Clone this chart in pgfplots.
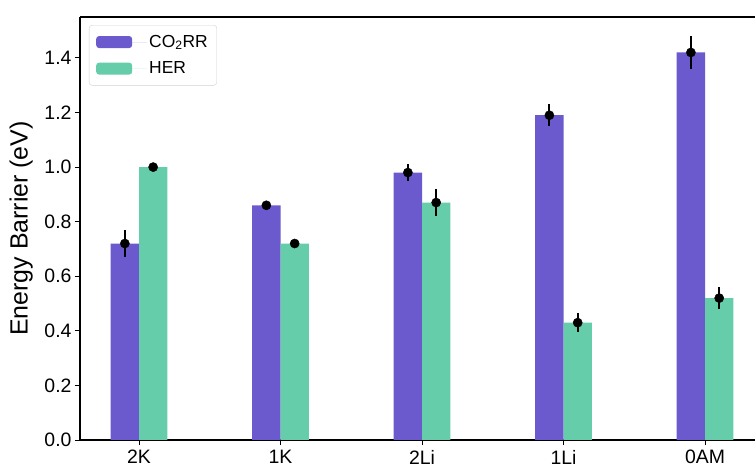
\documentclass[border=0pt]{standalone}
\usepackage{pgfplots}
\pgfplotsset{compat=1.18}
\usepackage{fontspec}
\setmainfont{Liberation Sans}
\definecolor{co2}{HTML}{6A5ACD}
\definecolor{her}{HTML}{66CDAA}
\begin{document}
\begin{tikzpicture}
\begin{axis}[
  scale only axis, width=675bp, height=423bp,
  xmin=-0.417, xmax=4.353, ymin=0, ymax=1.55,
  axis x line*=box, axis y line*=left,
  xtick pos=bottom, ytick pos=left,
  xtick={0,1,2,3,4}, xticklabels={2K,1K,2Li,1Li,0AM},
  ytick={0,0.2,0.4,0.6,0.8,1.0,1.2,1.4},
  /pgf/number format/assume math mode=true,
  /pgf/number format/fixed, /pgf/number format/fixed zerofill, /pgf/number format/precision=1,
  tick align=outside, major tick length=5bp,
  tick style={black, line width=1bp},
  axis line style={black, line width=1.1bp},
  tick label style={font=\fontsize{19.5}{22}\selectfont},
  xticklabel style={font=\fontsize{19.5}{22}\selectfont, yshift=-1.5bp},
  yticklabel style={font=\fontsize{19.5}{22}\selectfont},
  ylabel={Energy Barrier (eV)},
  ylabel style={font=\fontsize{25}{28}\selectfont, at={(axis description cs:-0.087,0.5)}, anchor=center},
  legend style={at={(axis description cs:0.0133,0.981)}, anchor=north west,
    draw=black!18, rounded corners=3bp, fill=white,
    font=\fontsize{17.5}{20}\selectfont, inner xsep=7bp, inner ysep=8bp,
    row sep=9bp, cells={anchor=west}},
  legend image code/.code={\fill[#1] (0bp,-6bp) rectangle (36bp,6bp); \path (0bp,0bp) -- (51bp,0bp);},
]
\addplot[ybar, bar width=0.2, bar shift=-0.1, fill=co2, draw=none] coordinates {(0,0.72) (1,0.86) (2,0.98) (3,1.19) (4,1.42)};
\addlegendentry{CO\textsubscript{2}RR}
\addplot[ybar, bar width=0.2, bar shift=0.1, fill=her, draw=none] coordinates {(0,1.00) (1,0.72) (2,0.87) (3,0.43) (4,0.52)};
\addlegendentry{HER}
\addplot[forget plot, only marks, mark=*, mark size=4.6bp, black,
  error bars/.cd, y dir=both, y explicit, error mark=none, error bar style={line width=2.2bp, black}]
  coordinates {(-0.1,0.72) +- (0,0.05) (0.9,0.86) +- (0,0.01) (1.9,0.98) +- (0,0.03) (2.9,1.19) +- (0,0.04) (3.9,1.42) +- (0,0.06)};
\addplot[forget plot, only marks, mark=*, mark size=4.6bp, black,
  error bars/.cd, y dir=both, y explicit, error mark=none, error bar style={line width=2.2bp, black}]
  coordinates {(0.1,1.00) +- (0,0.01) (1.1,0.72) +- (0,0.01) (2.1,0.87) +- (0,0.05) (3.1,0.43) +- (0,0.035) (4.1,0.52) +- (0,0.04)};
\coordinate (bl) at (rel axis cs:0,0);
\coordinate (tr) at (rel axis cs:1,1);
\end{axis}
\pgfresetboundingbox
\path[use as bounding box] ([xshift=-80bp,yshift=-29bp]bl) rectangle ([yshift=17bp]tr);
\end{tikzpicture}
\end{document}
